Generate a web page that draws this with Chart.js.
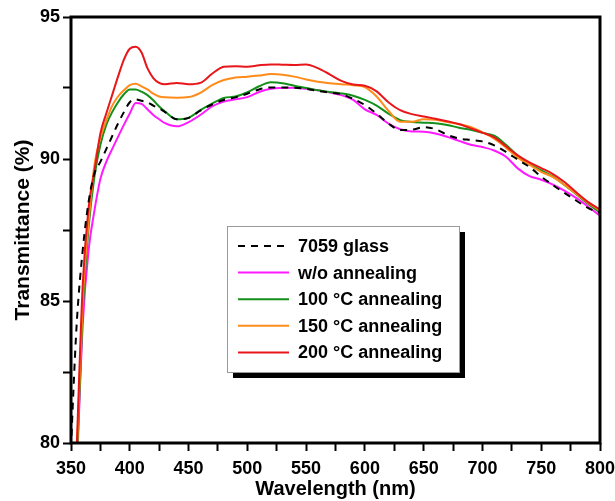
<!DOCTYPE html>
<html>
<head>
<meta charset="utf-8">
<script src="https://cdn.jsdelivr.net/npm/chart.js@4.4.1/dist/chart.umd.min.js"></script>
<style>
    html, body { margin: 0; padding: 0; background: #fff; }
    #wrap { width: 615px; height: 501px; position: relative; }
</style>
</head>
<body>
<div id="wrap"><canvas id="transmittance-chart"></canvas></div>
<script>
"use strict";

// Wavelength grid (nm) shared by all spectra
const wavelength = [350, 352, 355, 360, 365, 370, 375, 380, 385, 390, 395, 400, 405, 410, 415, 420, 425, 430,
    440, 450, 460, 470, 480, 490, 500, 510, 520, 530, 540, 550, 560, 570, 580, 590, 600,
    610, 620, 630, 640, 650, 660, 670, 680, 690, 700, 710, 720, 730, 740, 750, 760, 770, 780, 790, 800];

// Transmittance (%) per sample
const glass7059 = [79.8, 81.8, 84.3, 86.8, 88.5, 89.5, 89.9, 90.35, 90.8, 91.25, 91.65, 92.0, 92.1, 92.05, 92.0, 91.88, 91.78, 91.65,
    91.4, 91.45, 91.7, 91.92, 92.08, 92.17, 92.3, 92.45, 92.52, 92.52, 92.51, 92.47, 92.4, 92.34, 92.28, 92.12, 91.9,
    91.6, 91.25, 91.02, 91.03, 91.12, 91.05, 90.85, 90.72, 90.67, 90.62, 90.48, 90.25, 89.98, 89.72, 89.38, 89.08, 88.8, 88.53, 88.27, 88.1];

const noAnnealing = [null, 75.5, 79.0, 84.2, 86.8, 88.2, 89.3, 89.9, 90.35, 90.78, 91.2, 91.6, 91.97, 91.94, 91.75, 91.55, 91.4, 91.26,
    91.15, 91.3, 91.55, 91.85, 92.02, 92.1, 92.18, 92.36, 92.47, 92.5, 92.51, 92.47, 92.42, 92.34, 92.25, 92.08, 91.75,
    91.55, 91.25, 91.05, 90.97, 90.96, 90.9, 90.78, 90.64, 90.5, 90.42, 90.3, 90.08, 89.67, 89.4, 89.27, 89.1, 88.88, 88.62, 88.32, 88.0];

const anneal100 = [null, 76.0, 79.3, 84.6, 87.6, 89.4, 90.5, 91.2, 91.65, 92.0, 92.28, 92.45, 92.45, 92.37, 92.25, 92.07, 91.85, 91.67,
    91.4, 91.45, 91.72, 91.95, 92.15, 92.2, 92.35, 92.56, 92.7, 92.67, 92.58, 92.5, 92.42, 92.36, 92.31, 92.23, 92.08,
    91.88, 91.6, 91.37, 91.3, 91.28, 91.26, 91.2, 91.1, 91.03, 90.92, 90.82, 90.5, 90.12, 89.82, 89.6, 89.38, 89.08, 88.75, 88.42, 88.12];

const anneal150 = [null, 76.3, 79.6, 85.0, 87.8, 89.8, 90.75, 91.35, 91.87, 92.2, 92.42, 92.6, 92.65, 92.56, 92.45, 92.3, 92.2, 92.17,
    92.16, 92.18, 92.33, 92.6, 92.78, 92.87, 92.9, 92.94, 92.99, 92.97, 92.9, 92.8, 92.72, 92.67, 92.63, 92.6, 92.53,
    92.2, 91.7, 91.31, 91.31, 91.4, 91.38, 91.3, 91.22, 91.13, 90.94, 90.72, 90.4, 90.05, 89.8, 89.55, 89.36, 89.08, 88.77, 88.45, 88.18];

const anneal200 = [null, 76.6, 80.0, 85.6, 88.3, 89.6, 90.9, 91.6, 92.25, 92.9, 93.5, 93.88, 93.95, 93.75, 93.2, 92.85, 92.68, 92.63,
    92.68, 92.63, 92.68, 93.0, 93.25, 93.27, 93.25, 93.3, 93.33, 93.32, 93.31, 93.33, 93.2, 92.98, 92.75, 92.62, 92.58,
    92.38, 92.0, 91.72, 91.58, 91.5, 91.42, 91.33, 91.23, 91.08, 90.93, 90.76, 90.45, 90.13, 89.88, 89.68, 89.47, 89.18, 88.82, 88.48, 88.22];

const seriesLabels = ['7059 glass', 'w/o annealing', '100 \u00B0C annealing', '150 \u00B0C annealing', '200 \u00B0C annealing'];
const seriesValues = [glass7059, noAnnealing, anneal100, anneal150, anneal200];
const seriesColors = ['#000000', '#ff1aff', '#14901a', '#ff8c1a', '#e8161b'];

const FONT = '"Liberation Sans", Arial, sans-serif';

function toPoints(values) {
    return wavelength.map((x, i) => ({ x: x, y: values[i] }));
}

/**
 * Boxed legend with a drop shadow, plus the closed axis frame
 */
const frameAndLegend = {
    id: 'frameAndLegend',
    afterDraw(chart) {
        const ctx = chart.ctx;
        const area = chart.chartArea;

        ctx.save();
        ctx.strokeStyle = '#000';
        ctx.lineWidth = 3;
        ctx.strokeRect(area.left, area.top, area.right - area.left, area.bottom - area.top);

        // legend box
        const bx = 227, by = 226, bw = 232, bh = 146, shadow = 6;
        ctx.fillStyle = '#000';
        ctx.fillRect(bx + shadow, by + shadow, bw, bh);
        ctx.fillStyle = '#fff';
        ctx.fillRect(bx, by, bw, bh);
        ctx.strokeStyle = '#9a9a9a';
        ctx.lineWidth = 1;
        ctx.strokeRect(bx + 0.5, by + 0.5, bw, bh);

        ctx.font = 'bold 18px ' + FONT;
        ctx.textBaseline = 'middle';
        ctx.textAlign = 'left';
        chart.data.datasets.forEach((ds, i) => {
            const y = by + 20 + i * 26.6;
            ctx.beginPath();
            ctx.strokeStyle = ds.borderColor;
            ctx.lineWidth = 2;
            ctx.setLineDash(ds.borderDash || []);
            ctx.moveTo(bx + 11, y);
            ctx.lineTo(bx + 62, y);
            ctx.stroke();
            ctx.setLineDash([]);
            ctx.fillStyle = '#000';
            ctx.fillText(ds.label, bx + 71, y + 1);
        });
        ctx.restore();
    }
};

const datasets = seriesLabels.map((label, i) => ({
    label: label,
    data: toPoints(seriesValues[i]),
    borderColor: seriesColors[i],
    borderWidth: 2,
    borderDash: i === 0 ? [7, 6] : [],
    pointRadius: 0,
    fill: false,
    cubicInterpolationMode: 'monotone',
    order: i === 0 ? 0 : (i === 4 ? 1 : 6 - i)
}));

new Chart(document.getElementById('transmittance-chart'), {
    type: 'line',
    data: { datasets: datasets },
    plugins: [frameAndLegend],
    options: {
        responsive: true,
        maintainAspectRatio: false,
        animation: false,
        layout: { padding: { top: 17, right: 15, left: 0, bottom: 0 } },
        plugins: {
            legend: { display: false },
            tooltip: { enabled: false }
        },
        scales: {
            x: {
                type: 'linear',
                min: 350,
                max: 800,
                border: { display: false },
                grid: {
                    drawOnChartArea: false,
                    drawTicks: true,
                    tickLength: 8,
                    tickWidth: 2,
                    tickColor: '#000'
                },
                ticks: {
                    stepSize: 25,
                    autoSkip: false,
                    maxRotation: 0,
                    padding: 7,
                    color: '#000',
                    font: { family: FONT, size: 18, weight: 'bold' },
                    callback: (v) => (v % 50 === 0 ? v : '')
                },
                title: {
                    display: true,
                    text: 'Wavelength (nm)',
                    color: '#000',
                    font: { family: FONT, size: 20, weight: 'bold' },
                    padding: { top: 0, bottom: 0 }
                },
                afterFit: (scale) => {
                    scale.height = 58;
                    scale.paddingLeft = 0;
                    scale.paddingRight = 0;
                }
            },
            y: {
                type: 'linear',
                min: 80,
                max: 95,
                border: { display: false },
                grid: {
                    drawOnChartArea: false,
                    drawTicks: true,
                    tickLength: 8,
                    tickWidth: 2,
                    tickColor: '#000'
                },
                ticks: {
                    stepSize: 2.5,
                    autoSkip: false,
                    padding: 3,
                    color: '#000',
                    font: { family: FONT, size: 18, weight: 'bold' },
                    callback: (v) => (v % 5 === 0 ? v : '')
                },
                title: {
                    display: true,
                    text: 'Transmittance (%)',
                    color: '#000',
                    font: { family: FONT, size: 21, weight: 'bold' },
                    padding: { top: 11, bottom: 0 }
                },
                afterFit: (scale) => { scale.width = 71; }
            }
        }
    }
});
</script>
</body>
</html>
